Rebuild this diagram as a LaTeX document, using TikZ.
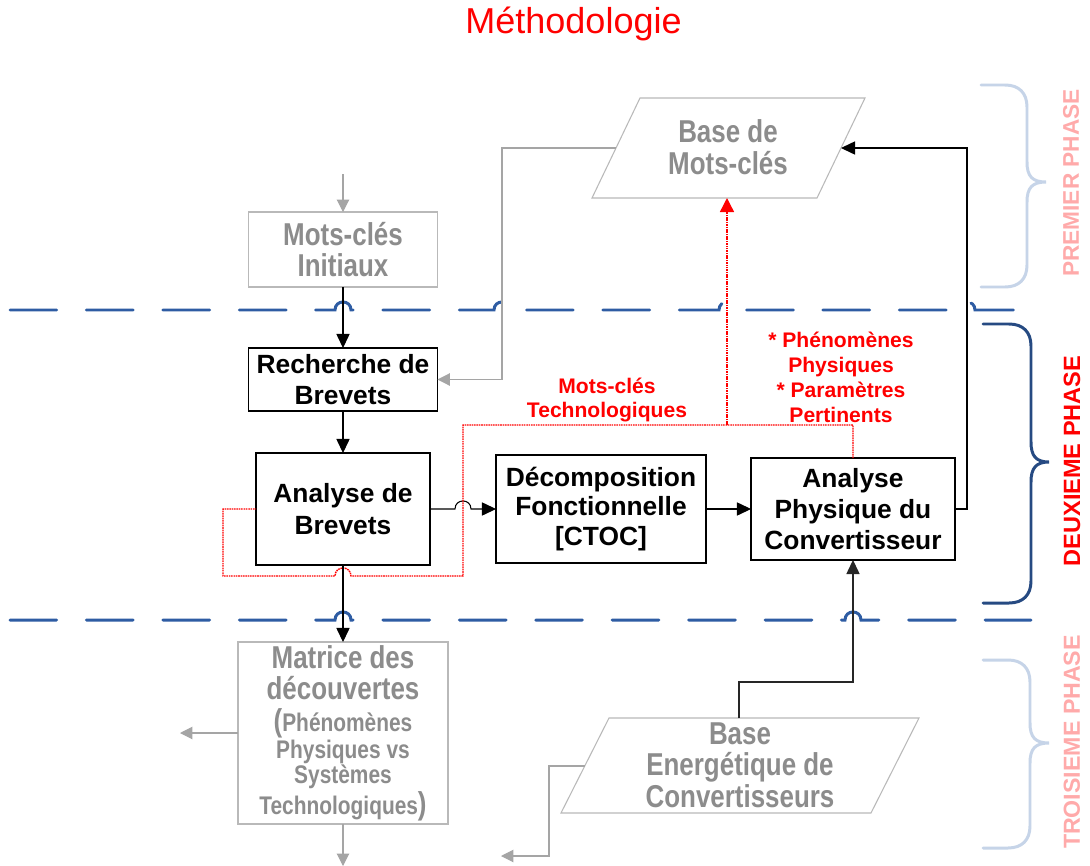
\documentclass[tikz,border=0pt]{standalone}
\usepackage{fontspec}
\setmainfont{Liberation Sans}
\newfontfamily\narrowfont[FakeStretch=0.82]{Liberation Sans}
\usetikzlibrary{arrows.meta}
\definecolor{dblue}{RGB}{46,92,163}
\definecolor{braceD}{RGB}{38,74,130}
\definecolor{braceL}{RGB}{198,212,232}
\definecolor{pinkt}{RGB}{255,170,170}
\definecolor{graytxt}{RGB}{140,140,140}
\definecolor{grayln}{RGB}{185,185,185}
\definecolor{grayarr}{RGB}{165,165,165}
\begin{document}
\begin{tikzpicture}[x=0.02cm,y=-0.02cm,
  boxb/.style={draw=black, line width=0.8pt, inner sep=0pt, outer sep=0pt, align=center, font=\fontsize{15}{18}\selectfont\bfseries},
  boxg/.style={draw=grayln, line width=0.6pt, inner sep=0pt, outer sep=0pt, align=center, text=graytxt, font=\narrowfont\fontsize{18}{18}\selectfont\bfseries},
  gtext/.style={inner sep=0pt, align=center, text=graytxt, font=\narrowfont\fontsize{18}{18}\selectfont\bfseries},
  conn/.style={draw=black, line width=0.6pt, -{Triangle[length=8pt,width=7.5pt]}},
  gconn/.style={draw=grayarr, line width=0.6pt, -{Triangle[length=7pt,width=7pt]}},
  reddot/.style={draw=red, line width=0.8pt, dash pattern=on 0.9pt off 0.45pt},
  phaseline/.style={draw=dblue, line width=1.7pt, line cap=round, dash pattern=on 26.6pt off 16.9pt},
  bracestyle/.style={line width=1.7pt, line cap=round},
  lbl/.style={text=red, font=\fontsize{12}{14.2}\selectfont\bfseries, align=center, inner sep=0pt},
  para/.style={draw=grayln, line width=0.6pt, line join=miter},
]
\useasboundingbox[fill=white] (0,0) rectangle (1090,866);

% title
\node[text=red, font=\fontsize{20.5}{24}\selectfont, anchor=base, inner sep=0pt] (title) at (573.5,33) {Méthodologie};

% phase separators
\draw[phaseline] (10,310) -- (335,310) .. controls (335,299.3) and (351,299.3) .. (351,310)
  -- (494,310) .. controls (494,299.3) and (510,299.3) .. (510,310)
  -- (719,310) .. controls (719,299.3) and (735,299.3) .. (735,310)
  -- (959,310) .. controls (959,299.3) and (975,299.3) .. (975,310) -- (1022,310);
\draw[phaseline] (10,620) -- (335,620) .. controls (335,609.3) and (351,609.3) .. (351,620)
  -- (845,620) .. controls (845,609.3) and (861,609.3) .. (861,620) -- (1031,620);

% braces
\draw[bracestyle, draw=braceL] (981,85) -- (1005,85) .. controls (1019,85) and (1027,93) .. (1027,107)
  -- (1027,162) .. controls (1027,176) and (1032,182) .. (1046,182)
  .. controls (1032,182) and (1027,188) .. (1027,202) -- (1027,265)
  .. controls (1027,279) and (1019,287) .. (1005,287) -- (981,287);
\draw[bracestyle, draw=braceD] (983,324) -- (1009,324) .. controls (1023,324) and (1031,332) .. (1031,346)
  -- (1031,442) .. controls (1031,456) and (1036,462) .. (1049,462)
  .. controls (1036,462) and (1031,468) .. (1031,482) -- (1031,581)
  .. controls (1031,595) and (1023,603) .. (1009,603) -- (983,603);
\draw[bracestyle, draw=braceL] (983,660) -- (1008,660) .. controls (1022,660) and (1030,668) .. (1030,682)
  -- (1030,723) .. controls (1030,737) and (1035,743) .. (1049,743)
  .. controls (1035,743) and (1030,749) .. (1030,763) -- (1030,826)
  .. controls (1030,840) and (1022,848) .. (1008,848) -- (983,848);

% phase labels
\node[rotate=90, text=pinkt, font=\fontsize{12.9}{13}\selectfont\bfseries, inner sep=0pt] (p1) at (1071,183) {PREMIER PHASE};
\node[rotate=90, text=red, font=\fontsize{13.4}{13}\selectfont\bfseries, inner sep=0pt] (p2) at (1072,461) {DEUXIEME PHASE};
\node[rotate=90, text=pinkt, font=\fontsize{13.2}{13}\selectfont\bfseries, inner sep=0pt] (p3) at (1072,742) {TROISIEME PHASE};

% boxes
\node[boxg, minimum width=3.78cm, minimum height=1.5cm] (mki) at (343,249.5) {Mots-clés\\Initiaux};
\node[boxb, minimum width=3.78cm, minimum height=1.26cm] (rdb) at (343,379.5) {Recherche de\\Brevets};
\node[boxb, minimum width=3.48cm, minimum height=2.24cm] (adb) at (343,509) {Analyse de\\Brevets};
\node[boxb, minimum width=4.2cm, minimum height=2.16cm, font=\fontsize{15}{17}\selectfont\bfseries] (dec) at (601,509) {Décomposition\\Fonctionnelle\\{[CTOC]}};
\node[boxb, minimum width=4.08cm, minimum height=2.04cm, font=\fontsize{15}{17.7}\selectfont\bfseries] (aph) at (853,509) {Analyse\\Physique du\\Convertisseur};
\node[boxg, minimum width=4.2cm, minimum height=3.64cm] (mat) at (343,733) {Matrice des\\découvertes\\(\fontsize{14.5}{15}\selectfont Phénomènes\\[-2.7pt]{\fontsize{14.5}{15}\selectfont Physiques vs}\\[-3.8pt]{\fontsize{14.5}{15}\selectfont Systèmes}\\[-0.4pt]{\fontsize{14.5}{15}\selectfont Technologiques})};

% parallelograms
\draw[para] (640,98) -- (865,98) -- (817,198) -- (592,198) -- cycle;
\node[gtext] (bmc) at (728,147) {Base de\\Mots-clés};
\coordinate (bmcL) at (616,148);
\coordinate (bmcR) at (841,148);
\coordinate (bmcB) at (727,198);
\draw[para] (609,718) -- (919,718) -- (871,813) -- (561,813) -- cycle;
\node[gtext] (bec) at (740,765) {Base\\Energétique de\\Convertisseurs};
\coordinate (becT) at (739,718);
\coordinate (becL) at (585,766);

% red labels
\node[lbl] (mct) at (607,400) {Mots-clés\\Technologiques};
\node[lbl] (php) at (841,377) {* Phénomènes\\Physiques\\* Paramètres\\Pertinents};

% free ends
\coordinate (mkiin) at (343,174);
\coordinate (rj) at (727,425);
\coordinate (matout1) at (180,733);
\coordinate (matout2) at (343,866);
\coordinate (becout) at (501,856);

% connectors
\draw[gconn] (mkiin) -- (mki.north);
\draw[conn] (mki.south) -- (rdb.north);
\draw[conn] (rdb.south) -- (adb.north);
\draw[conn] (adb.east) -- (455,509) .. controls (455,498.3) and (471,498.3) .. (471,509) -- (dec.west);
\draw[conn] (dec.east) -- (aph.west);
\draw[conn] (aph.east) -- (967,509) -- (967,148) -- (bmcR);
\draw[gconn] (bmcL) -- (502,148) |- (rdb.east);
\draw[reddot] (aph.north) -- (853,425) -- (463,425) -- (463,576) -- (351,576)
  .. controls (351,565.3) and (335,565.3) .. (335,576) -- (223,576) |- (adb.west);
\draw[reddot, -{Triangle[length=8pt,width=8pt]}] (rj) -- (bmcB);
\draw[conn] (adb.south) -- (mat.north);
\draw[gconn] (mat.west) -- (matout1);
\draw[gconn] (mat.south) -- (matout2);
\draw[conn, draw=black!85] (becT) -- (739,682) -| (aph.south);
\draw[gconn] (becL) -- (549,766) |- (becout);
\end{tikzpicture}
\end{document}
